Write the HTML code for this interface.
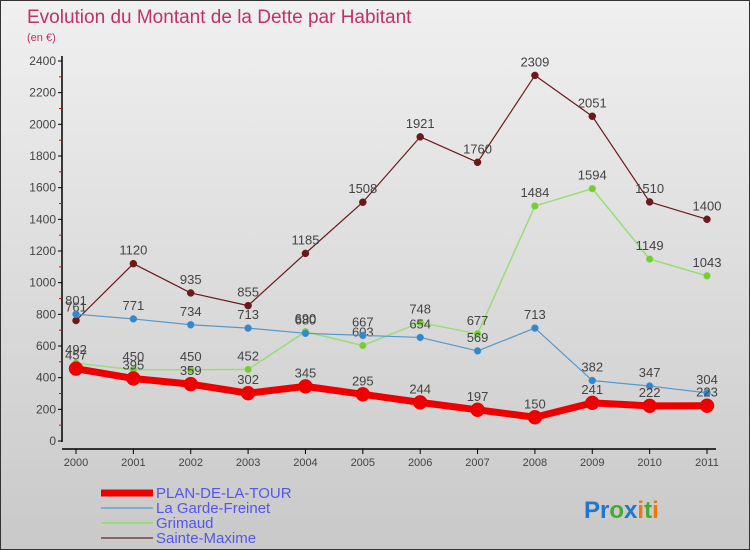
<!DOCTYPE html>
<html><head><meta charset="utf-8"><style>
body{margin:0}
#wrap{width:750px;height:550px;position:relative;background:linear-gradient(#f0f0f0,#c9c9c9);font-family:"Liberation Sans",sans-serif;overflow:hidden;box-sizing:border-box;border:1px solid #333}
svg{position:absolute;left:0;top:0}
</style></head><body>
<div id="wrap">
<svg id="s" width="750" height="550">
<text x="583" y="517" font-size="24" font-weight="bold" font-family="Liberation Sans, sans-serif"><tspan fill="#2277cc">Pr</tspan><tspan fill="#44aa33">o</tspan><tspan fill="#2277cc">x</tspan><tspan fill="#ee7711">i</tspan><tspan fill="#44aa33">t</tspan><tspan fill="#ee7711">i</tspan></text>
</svg>
</div>
<script>
const years=["2000","2001","2002","2003","2004","2005","2006","2007","2008","2009","2010","2011"];
const plan=[457,395,359,302,345,295,244,197,150,241,222,223];
const garde=[801,771,734,713,680,667,654,569,713,382,347,304];
const grimaud=[492,450,450,452,690,603,748,677,1484,1594,1149,1043];
const maxime=[761,1120,935,855,1185,1508,1921,1760,2309,2051,1510,1400];
const yTicks=[0,200,400,600,800,1000,1200,1400,1600,1800,2000,2200,2400];
const s=document.getElementById('s');const NS="http://www.w3.org/2000/svg";
function X(i){return 75+i*(706-75)/11}
function Y(v){return 440-v*380/2400}
function el(t,a,txt){const e=document.createElementNS(NS,t);for(const k in a)e.setAttribute(k,a[k]);if(txt!==undefined)e.textContent=txt;s.appendChild(e);return e}
let t=el('text',{x:26,y:22,'font-size':19,fill:'#c0306a'},'Evolution du Montant de la Dette par Habitant');

t=el('text',{x:26,y:40,'font-size':11,fill:'#c0306a'},'(en €)');

let a=el('line',{x1:61,y1:55,x2:61,y2:441,stroke:'#000','stroke-width':1.5});

a=el('line',{x1:61,y1:448,x2:715,y2:448,stroke:'#000','stroke-width':1.5});

yTicks.forEach(v=>{el('line',{x1:57,y1:Y(v),x2:61,y2:Y(v),stroke:'#000'});
 const l=el('text',{x:55,y:Y(v)+4,'font-size':12,fill:'#444','text-anchor':'end'},v);
 
 if(v<2400)el('line',{x1:58,y1:Y(v+100),x2:61,y2:Y(v+100),stroke:'#e00'});});
years.forEach((y,i)=>{el('line',{x1:X(i),y1:448,x2:X(i),y2:453,stroke:'#000'});
 const l=el('text',{x:X(i),y:465,'font-size':11,fill:'#444','text-anchor':'middle'},y);
 });
function series(d,c,w,r,name,dot){
 const p=el('polyline',{points:d.map((v,i)=>X(i)+','+Y(v)).join(' '),fill:'none',stroke:c,'stroke-width':w,'stroke-linejoin':'round'});
 
 d.forEach((v,i)=>{const m=el('circle',{cx:X(i),cy:Y(v),r:r,fill:dot,stroke:c,'stroke-width':0.5});
  
  const l=el('text',{x:X(i),y:Y(v)-9,'font-size':13,fill:'#444','text-anchor':'middle'},v);
  });}
series(maxime,'#6b1a1a',1.2,3.5,'sainte-maxime','#6b1a1a');
series(grimaud,'#99dd77',1.5,3.5,'grimaud','#77cc33');
series(garde,'#5599cc',1.2,3.5,'garde-freinet','#3388cc');
series(plan,'#ee0000',7,7,'plan-de-la-tour','#ee0000');
const leg=[['PLAN-DE-LA-TOUR','#ee0000',7],['La Garde-Freinet','#88aacc',2],['Grimaud','#99dd77',2],['Sainte-Maxime','#886666',2]];
leg.forEach((L,i)=>{const y=492+i*15;
 const l=el('line',{x1:100,y1:y,x2:152,y2:y,stroke:L[1],'stroke-width':L[2]});
 
 const tx=el('text',{x:155,y:y+5,'font-size':15,fill:'#5555ee'},L[0]);
 });
</script>
</body></html>
